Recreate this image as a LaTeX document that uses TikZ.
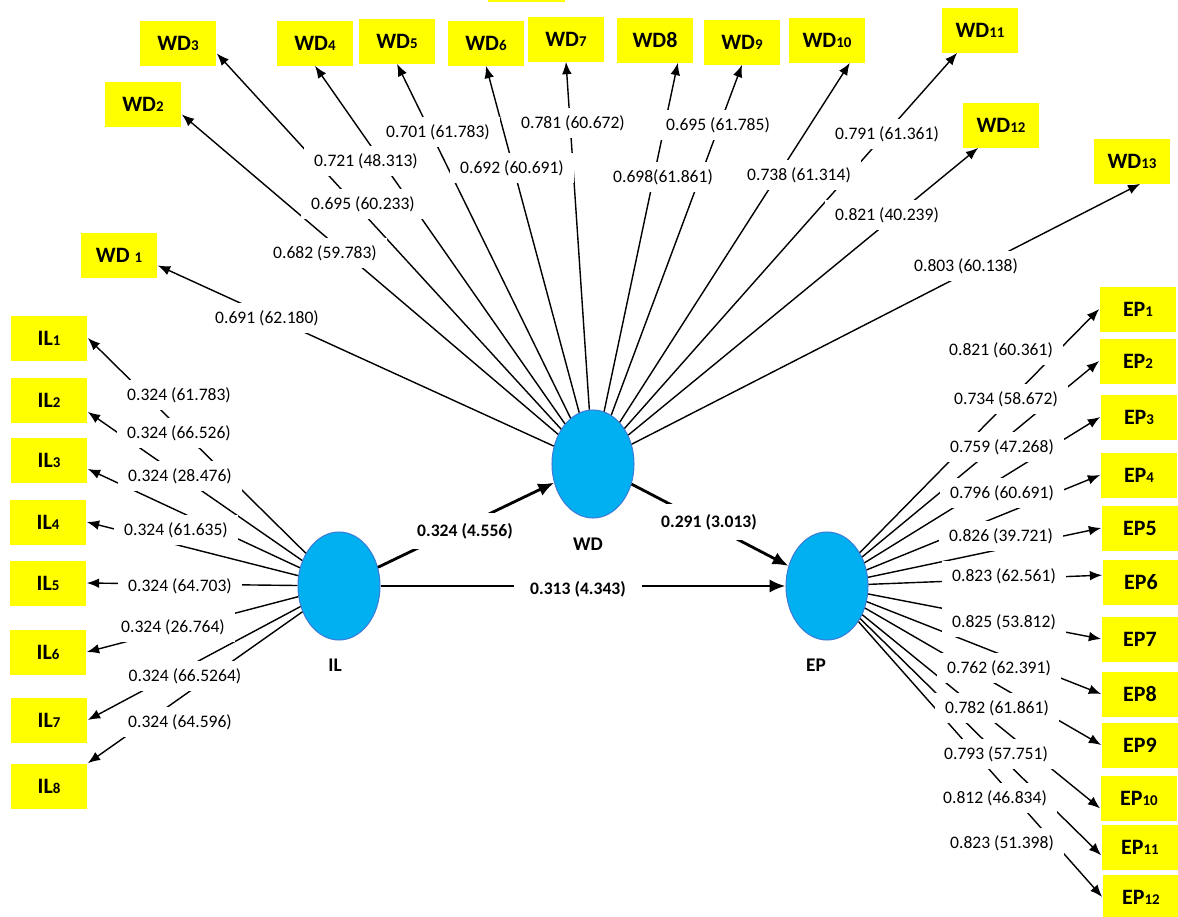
\documentclass[tikz,border=0pt]{standalone}
\usepackage{fontspec}
\setmainfont{Carlito}
\usetikzlibrary{shapes.geometric,arrows.meta}
\definecolor{boxyellow}{HTML}{FFFF00}
\definecolor{latfill}{HTML}{00B0F0}
\definecolor{latline}{HTML}{3B7DD8}
\newcommand{\smallnum}[1]{{\fontsize{8.5}{9}\selectfont #1}}
\tikzset{
  indbox/.style={fill=boxyellow, minimum width=1.54cm, minimum height=0.9cm, inner sep=0pt, font=\bfseries\fontsize{12.5}{12}\selectfont},
  latent/.style={ellipse, fill=latfill, draw=latline, line width=0.6pt, minimum width=1.64cm, minimum height=2.16cm},
  latname/.style={font=\bfseries\fontsize{11}{12}\selectfont},
  loadlbl/.style={fill=white, inner xsep=6pt, inner ysep=4pt, font=\fontsize{10}{12}\selectfont},
  pathlbl/.style={fill=white, inner xsep=9pt, inner ysep=6pt, font=\bfseries\fontsize{10}{12}\selectfont},
  loadline/.style={-{Latex[length=7pt,width=5.5pt]}, line width=0.8pt},
  pathline/.style={-{Latex[length=9pt,width=7.5pt]}, line width=1.6pt}
}
\begin{document}
\begin{tikzpicture}[x=0.02cm, y=-0.02cm]
	\useasboundingbox (0,0) rectangle (1178,917);
	% latent variables
	\node[latent] (il) at (339,586) {};
	\node[latent] (wd) at (593,464) {};
	\node[latent] (ep) at (827,586) {};
	\node[latname] (ilname) at (335,665) {IL};
	\node[latname] (wdname) at (588,544) {WD};
	\node[latname] (epname) at (816,665) {EP};
	% WD indicators
	\fill[boxyellow] (488,0) rectangle (565,2);
	\node[indbox] (wd1) at (119,255) {WD \smallnum{1}};
	\node[indbox] (wd2) at (143,104) {WD\smallnum{2}};
	\node[indbox] (wd3) at (178,43) {WD\smallnum{3}};
	\node[indbox] (wd4) at (315,43) {WD\smallnum{4}};
	\node[indbox] (wd5) at (397,41) {WD\smallnum{5}};
	\node[indbox] (wd6) at (486,43) {WD\smallnum{6}};
	\node[indbox] (wd7) at (566,39) {WD\smallnum{7}};
	\node[indbox] (wd8) at (655,40) {WD8};
	\node[indbox] (wd9) at (742,42) {WD\smallnum{9}};
	\node[indbox] (wd10) at (827,40) {WD\smallnum{10}};
	\node[indbox] (wd11) at (980,30) {WD\smallnum{11}};
	\node[indbox] (wd12) at (1001,125) {WD\smallnum{12}};
	\node[indbox] (wd13) at (1132,161) {WD\smallnum{13}};
	% IL indicators
	\node[indbox] (il1) at (49,338) {IL\smallnum{1}};
	\node[indbox] (il2) at (49,400) {IL\smallnum{2}};
	\node[indbox] (il3) at (49,460) {IL\smallnum{3}};
	\node[indbox] (il4) at (48,522) {IL\smallnum{4}};
	\node[indbox] (il5) at (48,583) {IL\smallnum{5}};
	\node[indbox] (il6) at (48,652) {IL\smallnum{6}};
	\node[indbox] (il7) at (49,720) {IL\smallnum{7}};
	\node[indbox] (il8) at (49,786) {IL\smallnum{8}};
	% EP indicators
	\node[indbox] (ep1) at (1138,309) {EP\smallnum{1}};
	\node[indbox] (ep2) at (1138,361) {EP\smallnum{2}};
	\node[indbox] (ep3) at (1139,417) {EP\smallnum{3}};
	\node[indbox] (ep4) at (1139,475) {EP\smallnum{4}};
	\node[indbox] (ep5) at (1140,528) {EP5};
	\node[indbox] (ep6) at (1141,582) {EP6};
	\node[indbox] (ep7) at (1140,639) {EP7};
	\node[indbox] (ep8) at (1140,694) {EP8};
	\node[indbox] (ep9) at (1140,745) {EP9};
	\node[indbox] (ep10) at (1139,798) {EP\smallnum{10}};
	\node[indbox] (ep11) at (1140,847) {EP\smallnum{11}};
	\node[indbox] (ep12) at (1141,897) {EP\smallnum{12}};
	% outer loadings
	\draw[loadline] (wd) -- (wd1.-15);
	\draw[loadline] (wd) -- (wd2.-15);
	\draw[loadline] (wd) -- (wd3.-15);
	\draw[loadline] (wd) -- (wd4.south);
	\draw[loadline] (wd) -- (wd5.south);
	\draw[loadline] (wd) -- (wd6.south);
	\draw[loadline] (wd) -- (wd7.south);
	\draw[loadline] (wd) -- (wd8.-45);
	\draw[loadline] (wd) -- (wd9.south);
	\draw[loadline] (wd) -- (wd10.-45);
	\draw[loadline] (wd) -- (wd11.-135);
	\draw[loadline] (wd) -- (wd12.-135);
	\draw[loadline] (wd) -- (wd13.-70);
	\draw[loadline] (il) -- (il1.east);
	\draw[loadline] (il) -- (il2.-17);
	\draw[loadline] (il) -- (il3.-13);
	\draw[loadline] (il) -- (il4.east);
	\draw[loadline] (il) -- (il5.east);
	\draw[loadline] (il) -- (il6.east);
	\draw[loadline] (il) -- (il7.east);
	\draw[loadline] (il) -- (il8.north east);
	\draw[loadline] (ep) -- (ep1.west);
	\draw[loadline] (ep) -- (ep2.west);
	\draw[loadline] (ep) -- (ep3.west);
	\draw[loadline] (ep) -- (ep4.west);
	\draw[loadline] (ep) -- (ep5.west);
	\draw[loadline] (ep) -- (ep6.170);
	\draw[loadline] (ep) -- (ep7.west);
	\draw[loadline] (ep) -- (ep8.west);
	\draw[loadline] (ep) -- (ep9.west);
	\draw[loadline] (ep) -- (ep10.195);
	\draw[loadline] (ep) -- (ep11.192);
	\draw[loadline] (ep) -- (ep12.west);
	% loading values
	\node[loadlbl] (lwd1) at (267,318) {0.691 (62.180)};
	\node[loadlbl] (lwd2) at (325,253) {0.682 (59.783)};
	\node[loadlbl] (lwd3) at (363,204) {0.695 (60.233)};
	\node[loadlbl] (lwd4) at (366,161) {0.721 (48.313)};
	\node[loadlbl] (lwd5) at (438,132) {0.701 (61.783)};
	\node[loadlbl] (lwd6) at (512,168) {0.692 (60.691)};
	\node[loadlbl] (lwd7) at (573,123) {0.781 (60.672)};
	\node[loadlbl] (lwd8) at (663,177) {0.698(61.861)};
	\node[loadlbl] (lwd9) at (718,125) {0.695 (61.785)};
	\node[loadlbl] (lwd10) at (799,175) {0.738 (61.314)};
	\node[loadlbl] (lwd11) at (887,134) {0.791 (61.361)};
	\node[loadlbl] (lwd12) at (887,215) {0.821 (40.239)};
	\node[loadlbl] (lwd13) at (966,266) {0.803 (60.138)};
	\node[loadlbl] (lil1) at (179,395) {0.324 (61.783)};
	\node[loadlbl] (lil2) at (179,433) {0.324 (66.526)};
	\node[loadlbl] (lil3) at (180,476) {0.324 (28.476)};
	\node[loadlbl] (lil4) at (176,530) {0.324 (61.635)};
	\node[loadlbl] (lil5) at (180,586) {0.324 (64.703)};
	\node[loadlbl] (lil6) at (173,627) {0.324 (26.764)};
	\node[loadlbl] (lil7) at (185,676) {0.324 (66.5264)};
	\node[loadlbl] (lil8) at (180,722) {0.324 (64.596)};
	\node[loadlbl] (lep1) at (1001,350) {0.821 (60.361)};
	\node[loadlbl] (lep2) at (1006,399) {0.734 (58.672)};
	\node[loadlbl] (lep3) at (1002,447) {0.759 (47.268)};
	\node[loadlbl] (lep4) at (1002,493) {0.796 (60.691)};
	\node[loadlbl] (lep5) at (1001,536) {0.826 (39.721)};
	\node[loadlbl] (lep6) at (1004,576) {0.823 (62.561)};
	\node[loadlbl] (lep7) at (1004,622) {0.825 (53.812)};
	\node[loadlbl] (lep8) at (999,668) {0.762 (62.391)};
	\node[loadlbl] (lep9) at (997,708) {0.782 (61.861)};
	\node[loadlbl] (lep10) at (996,754) {0.793 (57.751)};
	\node[loadlbl] (lep11) at (995,798) {0.812 (46.834)};
	\node[loadlbl] (lep12) at (1002,843) {0.823 (51.398)};
	% structural paths
	\draw[pathline] (il) -- (wd);
	\draw[pathline] (wd) -- (ep);
	\draw[pathline] (il) -- (ep);
	\node[pathlbl] (pilwd) at (465,531) {0.324 (4.556)};
	\node[pathlbl] (pwdep) at (709,522) {0.291 (3.013)};
	\node[pathlbl] (pilep) at (578,589) {0.313 (4.343)};
\end{tikzpicture}
\end{document}
